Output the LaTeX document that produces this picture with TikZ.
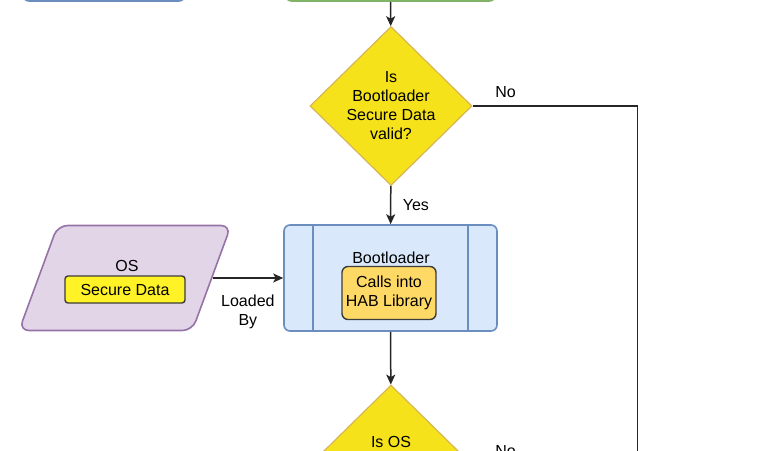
\documentclass[tikz,border=0pt]{standalone}
\usepackage{fontspec}
\setmainfont{Liberation Sans}
\usepackage{tikz}
\usetikzlibrary{positioning,shapes.geometric,arrows.meta}

\definecolor{blfill}{HTML}{DAE8FC}
\definecolor{blstroke}{HTML}{6C8EBF}
\definecolor{grfill}{HTML}{D5E8D4}
\definecolor{grstroke}{HTML}{82B366}
\definecolor{ylfill}{HTML}{F5E21B}
\definecolor{ylstroke}{HTML}{D6B656}
\definecolor{sdfill}{HTML}{FFF226}
\definecolor{orfill}{HTML}{FFD966}
\definecolor{pufill}{HTML}{E1D5E7}
\definecolor{pustroke}{HTML}{9673A6}
\definecolor{linegray}{HTML}{262626}

\begin{document}
\begin{tikzpicture}[x=1pt,y=-1pt,
	font=\fontsize{16}{19}\selectfont,
	line/.style={draw=linegray,line width=1.5pt},
	arrow/.style={line,-{Stealth[length=10pt,width=9pt,inset=2.5pt]}},
	decision/.style={diamond,draw=ylstroke,fill=ylfill,line width=1.2pt,inner sep=-3pt,
		minimum width=162pt,minimum height=159pt,align=center},
	process/.style={rectangle,rounded corners=6pt,line width=1.6pt,minimum height=106pt},
	inbox/.style={rectangle,rounded corners=6pt,draw=linegray!90,line width=1.4pt,align=center}]
	
	\useasboundingbox (0,0) rectangle (763,450);
	\clip (0,0) rectangle (763,450);
	
	% 上方两个框（只露出底边）
	\node[process,draw=blstroke,fill=blfill,minimum width=162pt,minimum height=50pt] (prev) at (104,-24) {};
	\node[process,draw=grstroke,fill=grfill,minimum width=210pt,minimum height=50pt] (load) at (390.5,-24) {};
	
	% 判断：Bootloader 安全数据
	\node[decision] (bootok) at (391,106) {Is\\Bootloader\\Secure Data\\valid?};
	
	% Bootloader 过程框
	\node[process,draw=blstroke,fill=blfill,minimum width=213pt] (boot) at (390.5,278) {};
	\node (boottxt) at (391,258) {Bootloader};
	\node[inbox,fill=orfill,minimum width=94pt,minimum height=53pt,inner sep=1pt] (hab) at (389,293) {Calls into\\HAB Library};
	
	% 过程框两侧竖线
	\foreach \n/\c in {load/grstroke,boot/blstroke} {
		\draw[\c,line width=1.6pt] ([xshift=30pt]\n.north west) -- ([xshift=30pt]\n.south west);
		\draw[\c,line width=1.6pt] ([xshift=-30pt]\n.north east) -- ([xshift=-30pt]\n.south east);
	}
	
	% OS 数据（平行四边形）
	\node[trapezium,trapezium left angle=74,trapezium right angle=106,trapezium stretches=true,
		draw=pustroke,fill=pufill,line width=1.6pt,rounded corners=10pt,
		minimum width=212pt,minimum height=105pt] (osimg) at (125,278) {};
	\node (ostxt) at (127,266) {OS};
	\node[inbox,fill=sdfill,rounded corners=3pt,minimum width=120pt,minimum height=27pt,inner sep=1pt] (osdata) at (125,289.5) {Secure Data};
	
	% 判断：OS 安全数据（下半被裁掉）
	\node[decision] (osok) at (391,464.5) {};
	\node (osoktxt) at (391,442) {Is OS};
	
	\coordinate (nobranch) at (637.5,480);
	
	% 连线
	\draw[arrow] (load) -- (bootok);
	\draw[line] (bootok.east) -| node[pos=0.1,above=4pt] {No} (nobranch);
	\draw[arrow] (bootok) -- node[right=8pt] {Yes} (boot);
	\draw[arrow] (osimg.east) -- node[below=13pt,align=center] {Loaded\\By} (boot.west);
	\draw[arrow] (boot) -- (osok);
	\draw[line] (osok.east) -- node[pos=0.2,above=4pt] {No} (osok.east -| nobranch);
\end{tikzpicture}
\end{document}
